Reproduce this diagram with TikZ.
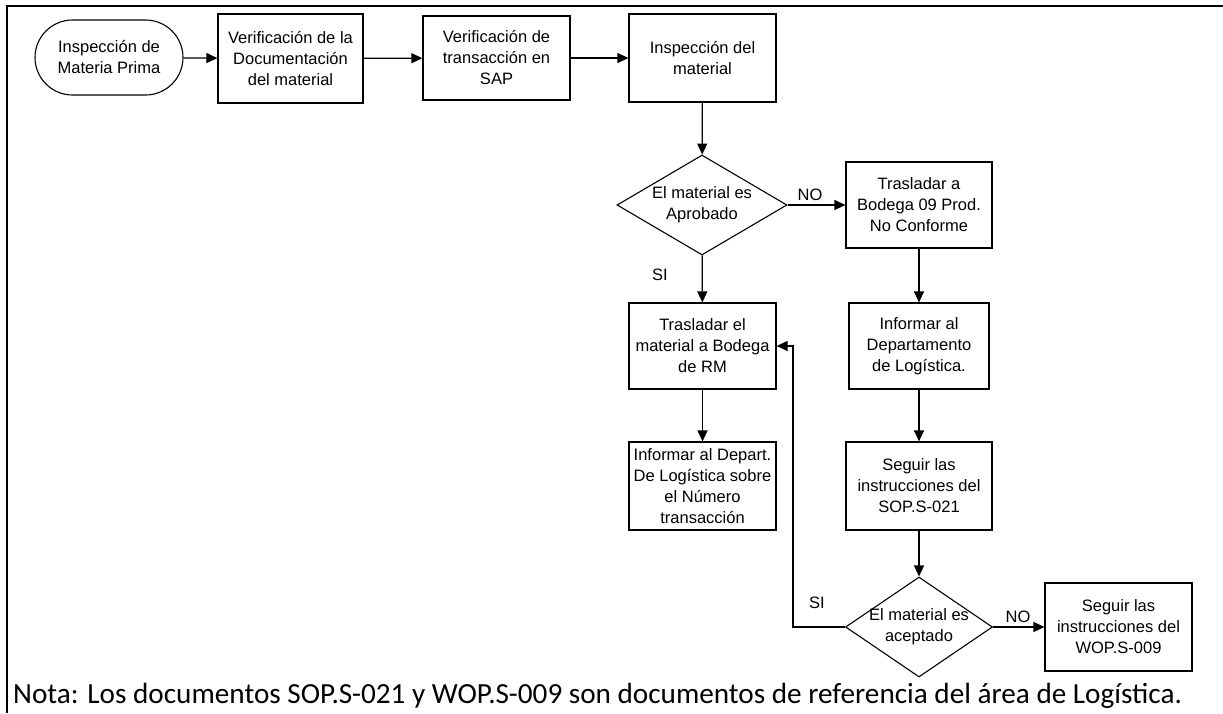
\documentclass[tikz,border=0pt]{standalone}
\usepackage{fontspec}
\newfontfamily\diagfont{Liberation Sans}
\newfontfamily\notefont{Carlito}
\usetikzlibrary{arrows.meta,shapes.geometric,shapes.misc}

\begin{document}
\begin{tikzpicture}[x=1pt,y=-1pt,
  every node/.style={font=\diagfont\fontsize{16.5}{21}\selectfont, text=black},
  stepbox/.style={draw, line width=1.2pt, inner sep=0pt, align=center},
  terminal/.style={draw, line width=1.1pt, rounded rectangle, inner sep=0pt,
    align=center, minimum width=148pt, minimum height=75pt},
  decision/.style={draw, line width=1.1pt, diamond, inner sep=-14pt, aspect=1.5,
    align=center},
  arr/.style={line width=1.2pt, -{Triangle[length=11pt,width=10pt]}},
  flowlabel/.style={inner sep=0pt},
  frame/.style={line width=2.6pt}
]
\useasboundingbox (0,0) rectangle (1223,713);

% page frame (top and left edges)
\draw[frame] (7,713) -- (7,6) -- (1223,6);

% top row
\node[terminal] (start) at (109,57.5) {Inspección de\\Materia Prima};
\node[stepbox, minimum width=145pt, minimum height=89pt] (docu) at (290.5,58.5)
  {Verificación de la\\Documentación\\del material};
\node[stepbox, minimum width=147pt, minimum height=84pt] (sap) at (496.5,58)
  {Verificación de\\transacción en\\SAP};
\node[stepbox, minimum width=147pt, minimum height=88pt] (insp) at (702.5,58)
  {Inspección del\\material};

% first decision and its branches
\node[decision, minimum width=170pt, minimum height=100pt] (aprob) at (702,205)
  {El material es\\Aprobado};
\node[stepbox, minimum width=146pt, minimum height=86pt] (nc) at (919,205)
  {Trasladar a\\Bodega 09 Prod.\\No Conforme};
\node[stepbox, minimum width=147pt, minimum height=86pt] (rm) at (702.5,346)
  {Trasladar el\\material a Bodega\\de RM};
\node[stepbox, minimum width=147pt, minimum height=88pt] (infrm) at (702.5,486)
  {Informar al Depart.\\De Logística sobre\\el Número\\transacción};
\node[stepbox, minimum width=140pt, minimum height=86pt] (inflog) at (919,346)
  {Informar al\\Departamento\\de Logística.};
\node[stepbox, minimum width=146pt, minimum height=88pt] (sop) at (919,486)
  {Seguir las\\instrucciones del\\SOP.S-021};

% second decision
\node[decision, minimum width=147pt, minimum height=100pt] (acep) at (919,627)
  {El material es\\aceptado};
\node[stepbox, minimum width=147pt, minimum height=88pt] (wop) at (1118.5,627)
  {Seguir las\\instrucciones del\\WOP.S-009};
\coordinate (back) at (793,627);

% connectors
\draw[arr] (start) -- (docu);
\draw[arr] (docu) -- (sap);
\draw[arr] (sap) -- (insp);
\draw[arr] (insp) -- (aprob);
\draw[arr] (aprob) -- (nc);
\draw[arr] (aprob) -- (rm);
\draw[arr] (rm) -- (infrm);
\draw[arr] (nc) -- (inflog);
\draw[arr] (inflog) -- (sop);
\draw[arr] (sop) -- (acep);
\draw[arr] (acep) -- (wop);
\draw[arr] (acep.west) -- (back) |- (rm.east);

% branch labels
\node[flowlabel] (no1) at (810,195) {NO};
\node[flowlabel] (si1) at (660,275) {SI};
\node[flowlabel] (si2) at (817,603) {SI};
\node[flowlabel] (no2) at (1018,617) {NO};

% footnote
\node[anchor=base west, inner sep=0pt, font=\notefont\fontsize{29.2}{31}\selectfont] (nota)
  at (13,703) {Nota: Los documentos SOP.S-021 y WOP.S-009 son documentos de referencia del área de Logística.};
\end{tikzpicture}
\end{document}
